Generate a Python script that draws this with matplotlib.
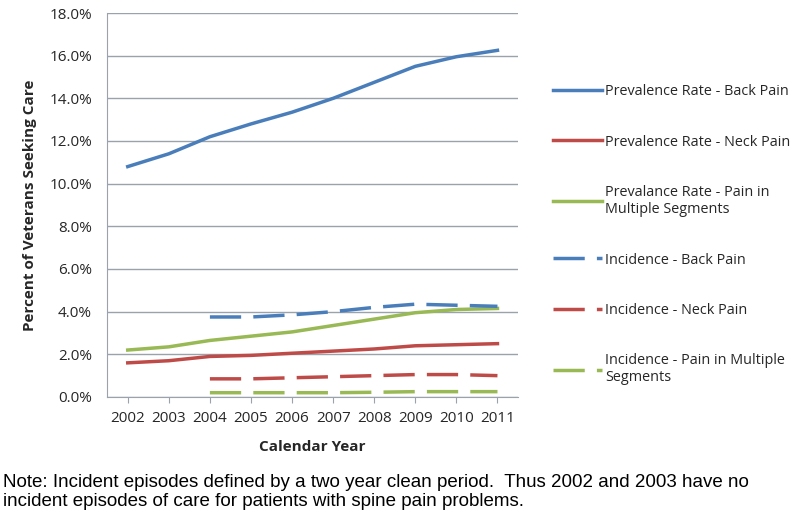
import matplotlib.pyplot as plt
from matplotlib.lines import Line2D
from matplotlib.ticker import FuncFormatter

plt.rcParams['font.family'] = ['Open Sans', 'DejaVu Sans']

years = [2002, 2003, 2004, 2005, 2006, 2007, 2008, 2009, 2010, 2011]
inc_years = years[2:]

prev_back = [10.8, 11.4, 12.2, 12.8, 13.35, 14.0, 14.75, 15.5, 15.95, 16.25]
prev_neck = [1.6, 1.7, 1.9, 1.95, 2.05, 2.15, 2.25, 2.4, 2.45, 2.5]
prev_multi = [2.2, 2.35, 2.65, 2.85, 3.05, 3.35, 3.65, 3.95, 4.1, 4.15]
inc_back = [3.75, 3.75, 3.85, 4.0, 4.2, 4.35, 4.3, 4.25]
inc_neck = [0.85, 0.85, 0.9, 0.95, 1.0, 1.05, 1.05, 1.0]
inc_multi = [0.2, 0.2, 0.2, 0.2, 0.22, 0.25, 0.25, 0.25]

labels = ["Prevalence Rate - Back Pain",
          "Prevalence Rate - Neck Pain",
          "Prevalance Rate - Pain in\nMultiple Segments",
          "Incidence - Back Pain",
          "Incidence - Neck Pain",
          "Incidence - Pain in Multiple\nSegments"]

blue, red, green = "#4a7ebb", "#be4b48", "#98b954"
txt = "#262626"

fig = plt.figure(figsize=(8, 5.31), dpi=100)
ax = fig.add_axes([0.134, 0.2524, 0.5135, 0.7231])

lw = 2.5
dash = (9, 3.5)
ax.plot(years, prev_back, color=blue, lw=lw)
ax.plot(years, prev_neck, color=red, lw=lw)
ax.plot(years, prev_multi, color=green, lw=lw)
ax.plot(inc_years, inc_back, color=blue, lw=lw, dashes=dash)
ax.plot(inc_years, inc_neck, color=red, lw=lw, dashes=dash)
ax.plot(inc_years, inc_multi, color=green, lw=lw, dashes=dash)

ax.set_xlim(2001.5, 2011.5)
ax.set_ylim(0, 18)
ax.set_yticks(range(0, 19, 2))
ax.yaxis.set_major_formatter(FuncFormatter(lambda v, p: f"{v:.1f}%"))
ax.set_xticks(years)
ax.set_xticklabels([str(y) for y in years])
ax.grid(axis='y', color='#9aa3ab', lw=1.0)
ax.set_axisbelow(True)
for s in ['top', 'right']:
    ax.spines[s].set_visible(False)
for s in ['left', 'bottom']:
    ax.spines[s].set_color('#9aa3ab')
ax.tick_params(axis='y', length=0, labelsize=11, pad=11, colors=txt)
ax.tick_params(axis='x', length=4, color='#9aa3ab', labelsize=11, pad=6,
               labelcolor=txt)
ax.set_xlabel("Calendar Year", fontsize=11, fontweight='bold', labelpad=10,
              color=txt)
ax.set_ylabel("Percent of Veterans Seeking Care", fontsize=11, fontweight='bold',
              labelpad=9, color=txt)

handles = [Line2D([], [], color=blue, lw=lw),
           Line2D([], [], color=red, lw=lw),
           Line2D([], [], color=green, lw=lw),
           Line2D([], [], color=blue, lw=lw, dashes=dash),
           Line2D([], [], color=red, lw=lw, dashes=dash),
           Line2D([], [], color=green, lw=lw, dashes=dash)]
leg = fig.legend(handles, labels, loc='upper left', bbox_to_anchor=(0.675, 0.866),
                 frameon=False, fontsize=10.4, handlelength=3.4, handletextpad=0.2,
                 labelspacing=2.45)
for t in leg.get_texts():
    t.set_color(txt)

fig.text(0.004, 0.108,
         "Note: Incident episodes defined by a two year clean period.  Thus 2002 and 2003 have no\n"
         "incident episodes of care for patients with spine pain problems.",
         fontsize=13.5, family=['Liberation Sans', 'DejaVu Sans'], va='top',
         linespacing=1.2)

fig.savefig("out.png", dpi=100)
